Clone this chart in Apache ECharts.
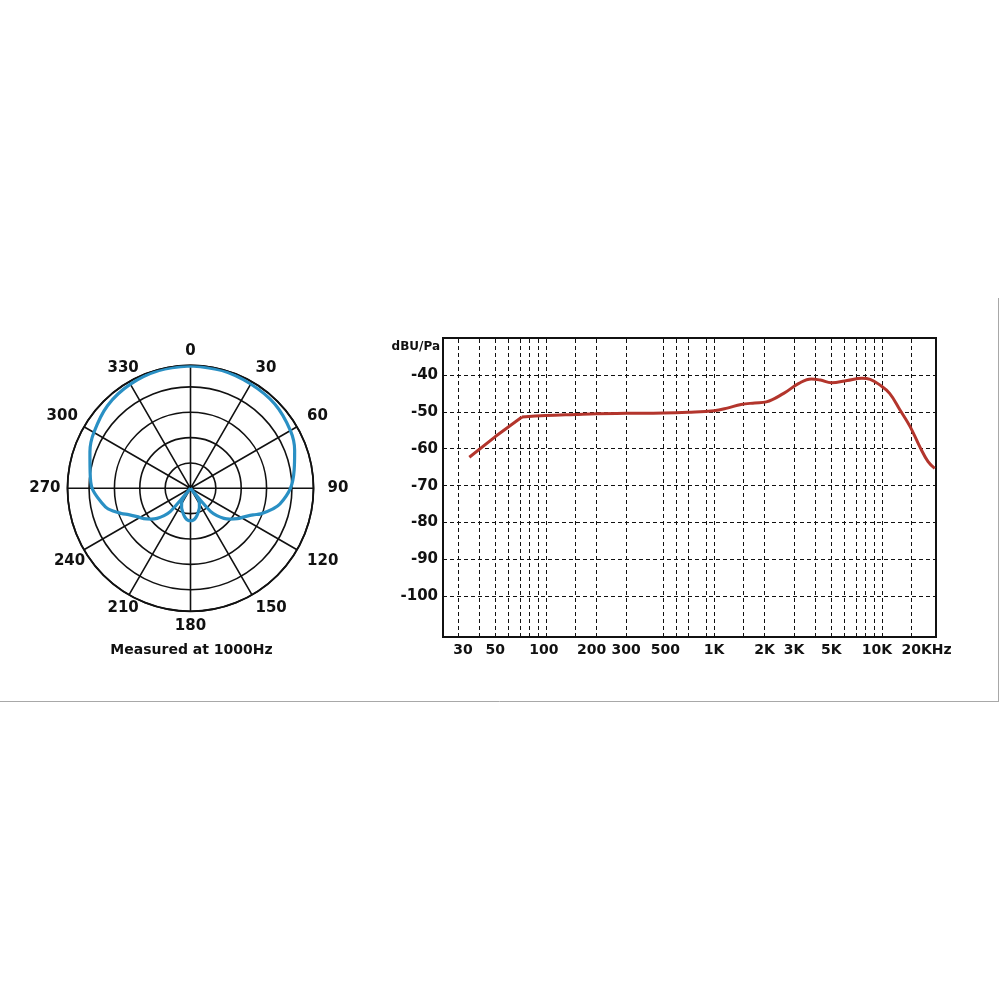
<!DOCTYPE html>
<html>
<head>
<meta charset="utf-8">
<script src="https://cdn.jsdelivr.net/npm/echarts@6/dist/echarts.min.js"></script>
<style>
html,body{margin:0;padding:0;background:#fff;}
#chart{width:1000px;height:1000px;}
</style>
</head>
<body>
<div id="chart"></div>
<script>
// ---------- Polar pattern (measured at 1000 Hz) ----------
const polarAngleTicks = [0, 30, 60, 90, 120, 150, 180, 210, 240, 270, 300, 330];
const polarAngles = [0, 15, 30, 45, 60, 70, 80, 90, 100, 104, 110, 113, 118, 123, 128, 132, 136, 139, 140, 141,
  143, 146, 150, 155, 160, 165, 170, 175, 180, 185, 190, 195, 200, 205, 210, 214, 217, 219,
  220, 221, 224, 228, 232, 237, 242, 247, 250, 256, 260, 270, 280, 290, 300, 315, 330, 345, 360];
const polarLevels = [4.83, 4.81, 4.75, 4.70, 4.55, 4.37, 4.15, 3.94, 3.58, 3.35, 2.95, 2.68, 2.40, 2.20, 1.97, 1.77, 1.50, 1.22, 0.60, 0,
  0.40, 0.60, 0.70, 0.83, 0.94, 1.06, 1.18, 1.26, 1.28, 1.26, 1.18, 1.06, 0.94, 0.83, 0.70, 0.60, 0.40, 0,
  0.60, 1.22, 1.50, 1.77, 1.97, 2.20, 2.38, 2.65, 2.90, 3.35, 3.52, 3.88, 4.02, 4.22, 4.40, 4.62, 4.74, 4.81, 4.83];
const polarRingMax = 4.85;
const polarCaption = 'Measured at 1000Hz';

// ---------- Frequency response ----------
const lowFreq = [35, 50, 72];
const lowLevel = [-62.3, -56.7, -51.4];
const highFreq = [72, 100, 150, 200, 300, 500, 700, 1000, 1200, 1450, 1750, 2050, 2600, 3200, 3800, 4300, 5000, 6200, 7600, 8500, 9700, 11100, 12800, 14700, 16800, 18800, 20600];
const highLevel = [-51.4, -51.0, -50.7, -50.5, -50.4, -50.3, -50.1, -49.7, -49.0, -48.0, -47.6, -47.3, -45.0, -42.3, -41.1, -41.4, -42.1, -41.5, -40.9, -41.2, -42.7, -45.0, -49.5, -54.0, -59.5, -63.5, -65.3];
const xGridFreq = [30, 40, 50, 60, 70, 80, 90, 100, 150, 200, 300, 500, 600, 700, 900, 1000, 1500, 2000, 3000, 4000, 5000, 6000, 7000, 8000, 9000, 10000, 15000];
const xLabelFreq = [30, 50, 100, 200, 300, 500, 1000, 2000, 3000, 5000, 10000, 20000];
const xLabelText = ['30', '50', '100', '200', '300', '500', '1K', '2K', '3K', '5K', '10K', '20KHz'];
const yTicks = [-40, -50, -60, -70, -80, -90, -100];
const yName = 'dBU/Pa';

const FONT = 'DejaVu Sans';
const INK = '#111';
// small horizontal nudges of some frequency labels (style only)
const xLabelNudge = {'30': 5, '100': -2, '200': -5, '500': 2, '10K': -5, '20KHz': -6};

const chart = echarts.init(document.getElementById('chart'), null, {renderer: 'canvas'});

const labelFont = {fontFamily: FONT, fontWeight: 'bold', fontSize: 15, color: INK};

const option = {
  animation: false,
  backgroundColor: '#fff',
  polar: {center: [190.5, 488.3], radius: 123},
  angleAxis: {
    type: 'value', min: 0, max: 360, interval: 30, startAngle: 90, clockwise: true,
    axisLine: {lineStyle: {color: INK, width: 1.8}},
    axisTick: {show: false},
    splitLine: {lineStyle: {color: INK, width: 1.6}},
    axisLabel: Object.assign({
      margin: 7,
      formatter: function (v) {
        if (polarAngleTicks.indexOf(v) < 0) return '';
        if (v === 210 || v === 330) return '{s|' + v + '}';
        if (v === 240) return '{t|' + v + '}';
        if (v === 90) return '{p|' + v + '}';
        if (v === 60 || v === 120) return '{q|' + v + '}';
        return String(v);
      },
      rich: {
        s: Object.assign({width: 18, align: 'left'}, labelFont),
        t: Object.assign({width: 24, align: 'left'}, labelFont),
        p: Object.assign({padding: [0, 0, 0, 7]}, labelFont),
        q: Object.assign({padding: [0, 0, 0, 4]}, labelFont)
      }
    }, labelFont)
  },
  radiusAxis: {
    type: 'value', min: 0, max: polarRingMax, interval: 1,
    axisLine: {show: false}, axisTick: {show: false}, axisLabel: {show: false},
    splitLine: {lineStyle: {color: INK, width: 1.6}}
  },
  grid: {left: 443, right: 64, top: 338, bottom: 363, show: true, borderColor: INK, borderWidth: 2, containLabel: false},
  xAxis: {
    type: 'log', logBase: 10, min: 24.4, max: 20960,
    axisLine: {show: false}, axisTick: {show: false}, axisLabel: {show: false}, splitLine: {show: false}
  },
  yAxis: {
    type: 'value', min: -111, max: -30,
    axisLine: {show: false},
    axisTick: {show: false, customValues: yTicks},
    splitLine: {show: false},
    axisLabel: {customValues: yTicks, margin: 5, fontFamily: FONT, fontWeight: 'bold', fontSize: 15, color: INK}
  },
  graphic: [
    {type: 'line', shape: {x1: 0, y1: 701.5, x2: 999, y2: 701.5}, style: {stroke: '#a8a8a8', lineWidth: 1}, silent: true},
    {type: 'line', shape: {x1: 998.5, y1: 298, x2: 998.5, y2: 701.5}, style: {stroke: '#a8a8a8', lineWidth: 1}, silent: true},
    {type: 'text', x: 440, y: 341, style: {text: yName, align: 'right', verticalAlign: 'top', fontFamily: FONT, fontWeight: 'bold', fontSize: 12, fill: INK}, silent: true},
    {type: 'text', x: 191.5, y: 650, style: {text: polarCaption, align: 'center', verticalAlign: 'middle', fontFamily: FONT, fontWeight: 'bold', fontSize: 14, fill: INK}, silent: true}
  ],
  series: [
    {
      type: 'line', coordinateSystem: 'polar', name: 'polar',
      data: polarAngles.map(function (a, i) { return [polarLevels[i], a]; }),
      smooth: 0.35, symbol: 'none', z: 5,
      lineStyle: {color: '#2a90c4', width: 3.2}
    },
    {
      type: 'line', name: 'gridlines', data: [], silent: true,
      markLine: {
        silent: true, symbol: ['none', 'none'], animation: false,
        label: {show: false},
        lineStyle: {color: INK, type: [4, 3], width: 1},
        data: xGridFreq.map(function (f) { return {xAxis: f}; })
          .concat(yTicks.map(function (v) { return {yAxis: v}; }))
      }
    },
    {
      type: 'line', name: 'xlabels', data: [], silent: true,
      markLine: {
        silent: true, symbol: ['none', 'none'], animation: false,
        lineStyle: {color: 'rgba(0,0,0,0)', width: 1},
        label: {show: true, position: 'start', distance: 6, formatter: '{b}', fontFamily: FONT, fontWeight: 'bold', fontSize: 14, color: INK},
        data: xLabelFreq.map(function (f, i) {
          const t = xLabelText[i];
          return {xAxis: f, name: t, label: {offset: [xLabelNudge[t] || 0, 0]}};
        })
      }
    },
    {
      type: 'line', name: 'low', data: lowFreq.map(function (f, i) { return [f, lowLevel[i]]; }),
      symbol: 'none', smooth: false, z: 5,
      lineStyle: {color: '#b3352c', width: 3}
    },
    {
      type: 'line', name: 'high', data: highFreq.map(function (f, i) { return [f, highLevel[i]]; }),
      symbol: 'none', smooth: 0.4, z: 5,
      lineStyle: {color: '#b3352c', width: 3}
    }
  ]
};
chart.setOption(option);
</script>
</body>
</html>
